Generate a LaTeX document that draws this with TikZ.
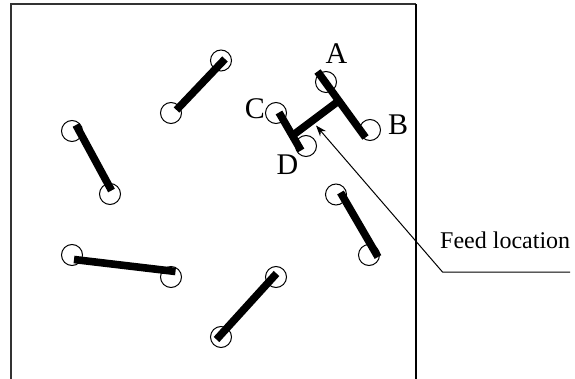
\documentclass[tikz,border=0pt]{standalone}
\usepackage{fontspec}
\setmainfont{Liberation Serif}
\usetikzlibrary{arrows.meta}
\tikzset{
  port/.style={circle,draw=black,line width=1pt,minimum size=21pt,inner sep=0pt,fill=white},
  bar/.style={line width=7.6pt,black},
  thin line/.style={line width=1pt,black},
  letter/.style={anchor=base,inner sep=0pt,font=\fontsize{30}{30}\selectfont},
  caption/.style={anchor=base west,inner sep=0pt,font=\fontsize{24}{24}\selectfont}
}
\begin{document}
\begin{tikzpicture}[x=1pt,y=-1pt]
\useasboundingbox (0,0) rectangle (575,379);
\fill[white] (0,0) rectangle (575,379);
% frame
\coordinate (fa) at (11,379);
\coordinate (fb) at (11,4);
\coordinate (fc) at (416,4);
\coordinate (fd) at (416,379);
\draw[line width=1.2pt,black!80] (fa) -- (fb) -- (fc);
\draw[line width=1.1pt,black] (fc) -- (fd);
% ports
\node[port] (p1) at (221,60.5) {};
\node[port] (p2) at (171,113) {};
\node[port] (p3) at (72,131) {};
\node[port] (p4) at (110,194) {};
\node[port] (p5) at (72,255) {};
\node[port] (p6) at (171,277) {};
\node[port] (p7) at (276,277) {};
\node[port] (p8) at (221,337) {};
\node[port] (p9) at (336,194.5) {};
\node[port] (p10) at (369,255) {};
\node[port] (pA) at (326,82) {};
\node[port] (pB) at (370,130) {};
\node[port] (pC) at (276,113) {};
\node[port] (pD) at (306,146) {};
% bar ends
\coordinate (b1a) at (225,59);
\coordinate (b1b) at (176.5,110);
\coordinate (b2a) at (76,125);
\coordinate (b2b) at (111.5,190.5);
\coordinate (b3a) at (74,259.5);
\coordinate (b3b) at (175.5,271.5);
\coordinate (b4a) at (276.5,273.5);
\coordinate (b4b) at (216.5,339.5);
\coordinate (b5a) at (340.5,192.5);
\coordinate (b5b) at (378,257);
\coordinate (hA) at (317.5,71.5);
\coordinate (hB) at (365.5,137.5);
\coordinate (hC) at (279,112.5);
\coordinate (hD) at (301,150.5);
\coordinate (hE) at (336.5,102.5);
\coordinate (hF) at (294.5,134);
\draw[bar] (b1a) -- (b1b);
\draw[bar] (b2a) -- (b2b);
\draw[bar] (b3a) -- (b3b);
\draw[bar] (b4a) -- (b4b);
\draw[bar] (b5a) -- (b5b);
\draw[bar] (hA) -- (hB);
\draw[bar] (hC) -- (hD);
\draw[bar] (hE) -- (hF);
% labels
\node[letter] (lA) at (336.5,63.5) {A};
\node[letter] (lB) at (398,135) {B};
\node[letter] (lC) at (255,119) {C};
\node[letter] (lD) at (287.5,175) {D};
\node[caption] (feed) at (440,248) {Feed location};
% leader
\coordinate (tip) at (316,125.5);
\coordinate (knee) at (442.5,272);
\coordinate (lend) at (570,272);
\draw[thin line,-{Stealth[length=11pt,width=8pt]}] (lend) -- (knee) -- (tip);
\end{tikzpicture}
\end{document}
